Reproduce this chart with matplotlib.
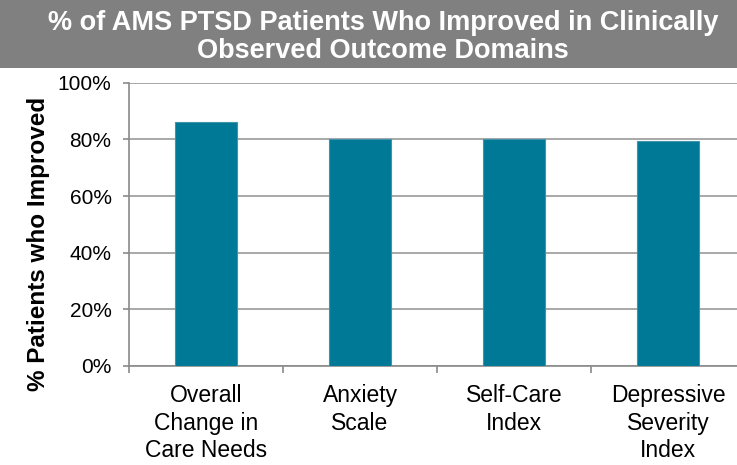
import matplotlib.pyplot as plt
from matplotlib.patches import Rectangle
from matplotlib.ticker import PercentFormatter, FixedLocator

categories = ["Overall\nChange in\nCare Needs", "Anxiety\nScale", "Self-Care\nIndex",
              "Depressive\nSeverity\nIndex"]
improved = [0.862, 0.80, 0.80, 0.796]
yticks = [0, 0.2, 0.4, 0.6, 0.8, 1.0]
title = "% of AMS PTSD Patients Who Improved in Clinically\nObserved Outcome Domains"

plt.rcParams["font.family"] = ["Liberation Sans", "DejaVu Sans"]

fig = plt.figure(figsize=(7.37, 4.65), dpi=100)

# grey title banner
fig.patches.append(Rectangle((0, 1 - 68 / 465), 1, 68 / 465, transform=fig.transFigure,
                             facecolor="#808080", edgecolor="none", zorder=0))
fig.text(0.52, 1 - 37 / 465, title, ha="center", va="center", color="white",
         fontsize=19.5, fontweight="bold", linespacing=1.12)

ax = fig.add_axes([0.175, 0.213, 0.836, 0.609])
x = range(len(categories))
ax.bar(x, improved, width=0.4, color="#007996", edgecolor="#3f93aa", linewidth=0.8, zorder=3)

ax.set_xlim(-0.5, 3.5)
ax.set_ylim(0, 1)
ax.set_yticks(yticks)
ax.yaxis.set_major_formatter(PercentFormatter(1.0, decimals=0))
ax.grid(axis="y", color="#9a9a9a", linewidth=1.2, zorder=0)

ax.set_xticks(list(x))
ax.set_xticklabels(categories, fontsize=16.5, linespacing=1.25)
ax.xaxis.set_minor_locator(FixedLocator([-0.5, 0.5, 1.5, 2.5, 3.5]))
ax.tick_params(axis="x", which="major", length=0, pad=13)
ax.tick_params(axis="x", which="minor", length=5, color="#8a8a8a", width=1.2)
ax.tick_params(axis="y", length=4.5, color="#8a8a8a", width=1.2, labelsize=15, pad=8)

for side in ["top", "right"]:
    ax.spines[side].set_visible(False)
for side in ["left", "bottom"]:
    ax.spines[side].set_color("#8a8a8a")
    ax.spines[side].set_linewidth(1.2)

ax.set_ylabel("% Patients who Improved", fontsize=17.5, fontweight="bold", labelpad=6, y=0.43)

fig.savefig("out.png", dpi=100)
